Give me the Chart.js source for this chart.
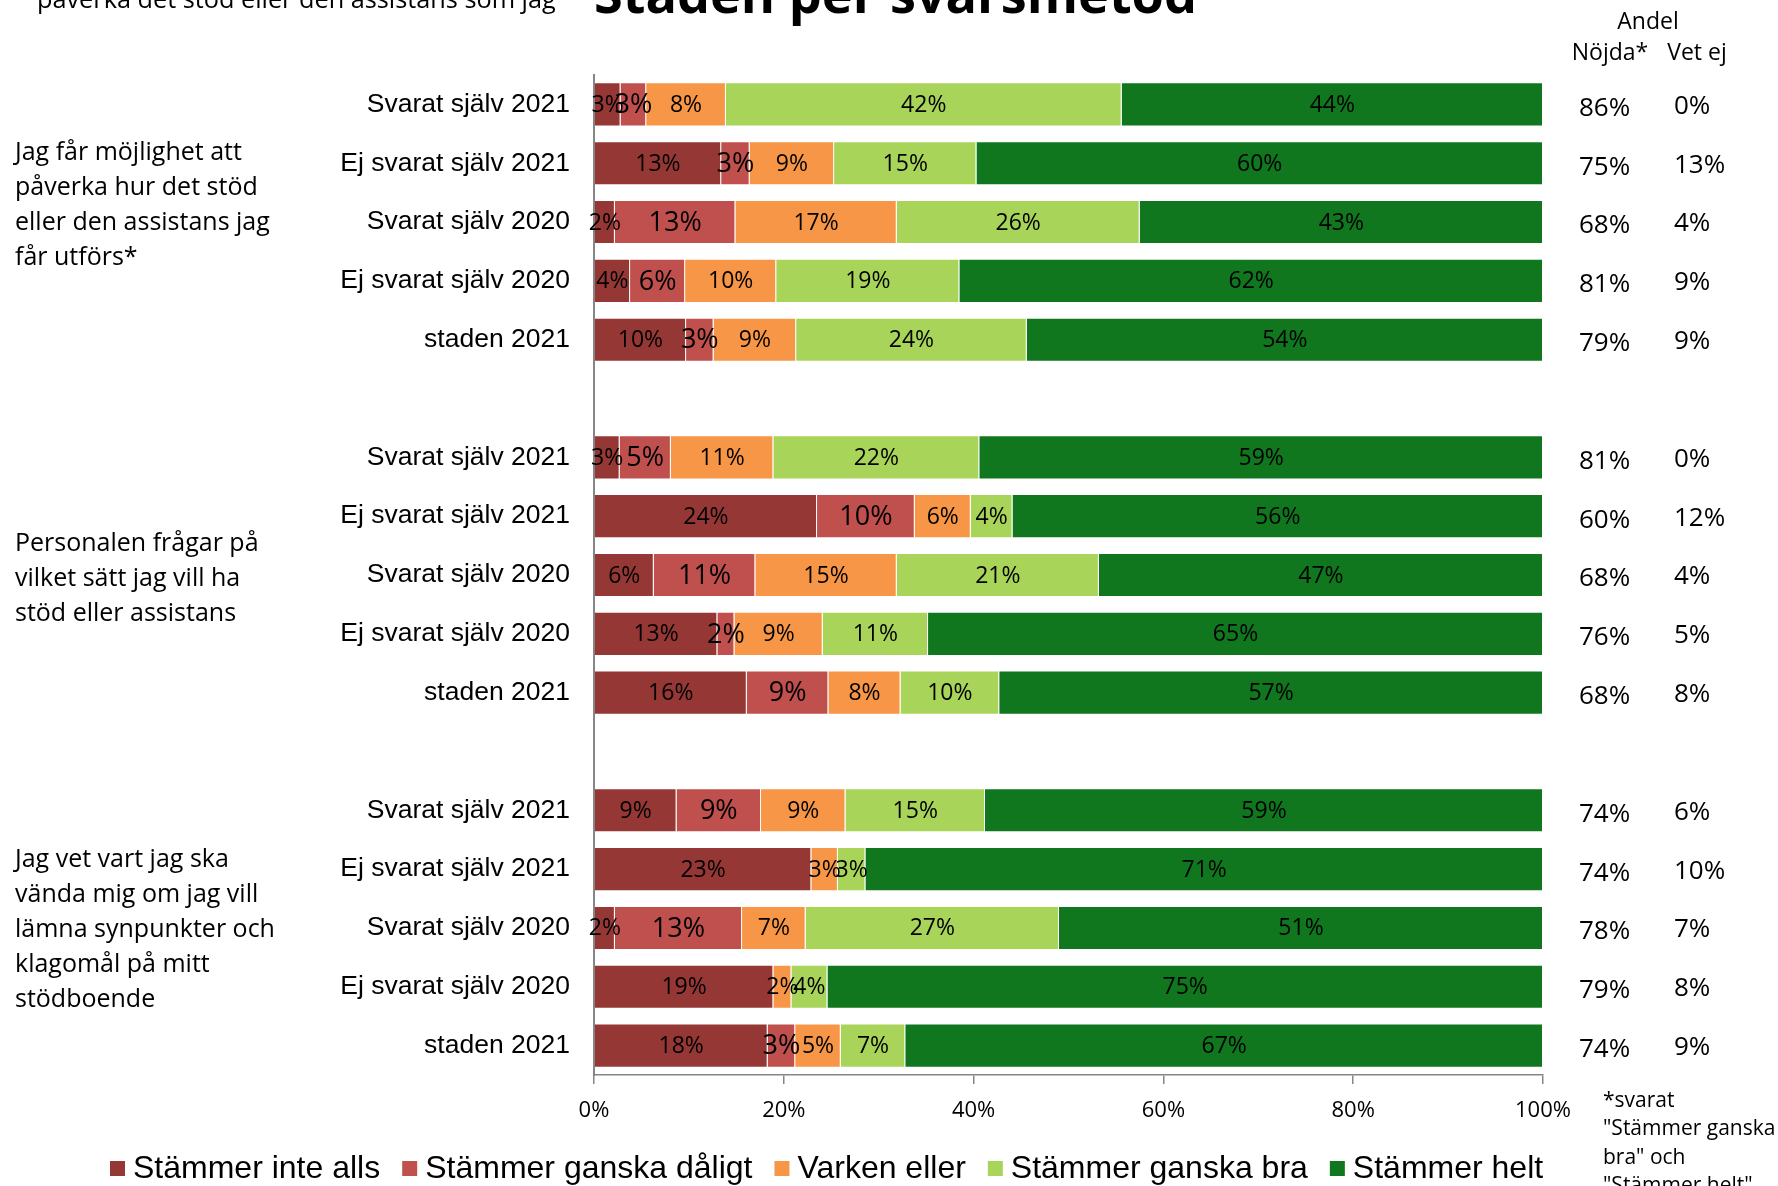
<!DOCTYPE html>
<html><head><meta charset="utf-8">
<script src="https://cdn.jsdelivr.net/npm/chart.js@4/dist/chart.umd.min.js"></script>
<style>html,body{margin:0;padding:0;background:#fff;}canvas{display:block;}</style>
</head><body>
<canvas id="c" width="1778" height="1186"></canvas>
<script>
// ---------- DATA ----------
const categories = [
  'Svarat själv 2021','Ej svarat själv 2021','Svarat själv 2020','Ej svarat själv 2020','staden 2021','',
  'Svarat själv 2021','Ej svarat själv 2021','Svarat själv 2020','Ej svarat själv 2020','staden 2021','',
  'Svarat själv 2021','Ej svarat själv 2021','Svarat själv 2020','Ej svarat själv 2020','staden 2021'
];
const seriesNames = ['Stämmer inte alls','Stämmer ganska dåligt','Varken eller','Stämmer ganska bra','Stämmer helt'];
const interAlls  = [2.8,13.4,2.2,3.8,9.7,null, 2.7,23.5,6.3,13.0,16.1,null, 8.7,22.9,2.2,18.9,18.3];
const gDaligt    = [2.7,3.0,12.7,5.8,2.9,null, 5.4,10.3,10.7,1.8,8.6,null, 8.9,0,13.4,0,2.9];
const varken     = [8.4,8.9,17.0,9.6,8.7,null, 10.8,5.9,14.9,9.3,7.6,null, 8.9,2.8,6.7,1.9,4.8];
const gBra       = [41.7,15.0,25.6,19.3,24.3,null, 21.7,4.4,21.3,11.1,10.4,null, 14.7,2.9,26.7,3.8,6.8];
const helt       = [44.4,59.7,42.5,61.5,54.4,null, 59.4,55.9,46.8,64.8,57.3,null, 58.8,71.4,51.0,75.4,67.2];
const nojda = ['86%','75%','68%','81%','79%','', '81%','60%','68%','76%','68%','', '74%','74%','78%','79%','74%'];
const vetEj = ['0%','13%','4%','9%','9%','', '0%','12%','4%','5%','8%','', '6%','10%','7%','8%','9%'];
const xTickValues = [0,20,40,60,80,100];
const groupQuestions = [
  ['Jag får möjlighet att','påverka hur det stöd','eller den assistans jag','får utförs*'],
  ['Personalen frågar på','vilket sätt jag vill ha','stöd eller assistans'],
  ['Jag vet vart jag ska','vända mig om jag vill','lämna synpunkter och','klagomål på mitt','stödboende']
];
const titleText = 'Staden per svarsmetod';
const cutText = 'påverka det stöd eller den assistans som jag';
const columnHeader = ['Andel','Nöjda*','Vet ej'];
const footnote = ['*svarat','"Stämmer ganska','bra" och','"Stämmer helt"'];

// ---------- STYLE ----------
const colors = ['#953735','#C0504D','#F79646','#A8D45A','#10771E'];
const CAL = '"Open Sans", sans-serif';
const ARI = '"Liberation Sans", Arial, sans-serif';

const seriesData = [interAlls, gDaligt, varken, gBra, helt];
const datasets = seriesNames.map((n,i)=>({
  label:n, data:seriesData[i], backgroundColor:colors[i],
  borderColor:'rgba(255,255,255,0.45)', borderWidth:{top:1,bottom:1,left:0,right:1}, borderSkipped:false,
  categoryPercentage:1, barPercentage:0.75
}));

function fit(ctx, text, weight, family, target){
  ctx.font = `${weight} 100px ${family}`;
  return 100*target/ctx.measureText(text).width;
}

const decor = {
  id:'decor',
  afterDatasetsDraw(chart){
    const ctx = chart.ctx;
    ctx.save();
    ctx.fillStyle = '#000';
    ctx.textAlign = 'center';
    ctx.textBaseline = 'middle';
    chart.data.datasets.forEach((ds,di)=>{
      const meta = chart.getDatasetMeta(di);
      meta.data.forEach((bar,i)=>{
        const v = ds.data[i];
        if (v===null || v===0) return;
        const size = di===1 ? 27 : 23;
        ctx.font = `${size}px ${CAL}`;
        ctx.fillText(Math.round(v)+'%', (bar.x+bar.base)/2, bar.y+1);
      });
    });
    ctx.restore();
  },
  afterDraw(chart){
    const ctx = chart.ctx;
    const ys = chart.scales.y;
    ctx.save();
    ctx.fillStyle = '#000';
    // right columns
    ctx.textBaseline = 'middle';
    ctx.textAlign = 'left';
    ctx.font = `26px ${CAL}`;
    categories.forEach((c,i)=>{
      const y = ys.getPixelForValue(i);
      if (nojda[i]) ctx.fillText(nojda[i], 1579, y+4);
      if (vetEj[i]) ctx.fillText(vetEj[i], 1674, y+2);
    });
    ctx.font = `23px ${CAL}`;
    ctx.textAlign = 'center';
    ctx.fillText(columnHeader[0], 1648, 22);
    ctx.fillText(columnHeader[1], 1610, 53);
    ctx.fillText(columnHeader[2], 1697, 53);
    // group question labels
    ctx.textAlign = 'left';
    ctx.font = `25px ${CAL}`;
    const starts = [153, 544, 860];
    groupQuestions.forEach((lines,g)=>{
      lines.forEach((t,k)=> ctx.fillText(t, 15, starts[g] + k*35));
    });
    // footnote
    ctx.font = `21px ${CAL}`;
    footnote.forEach((t,k)=> ctx.fillText(t, 1603, 1101 + k*28.5));
    // title & cut-off slide text
    ctx.textBaseline = 'alphabetic';
    const ts = fit(ctx, titleText, 'bold', CAL, 603);
    ctx.font = `bold ${ts}px ${CAL}`;
    ctx.fillText(titleText, 594, 13);
    const cs = fit(ctx, cutText, 'normal', CAL, 519);
    ctx.font = `${cs}px ${CAL}`;
    ctx.fillText(cutText, 37, 8);
    // legend
    ctx.textBaseline = 'middle';
    ctx.font = `32px ${ARI}`;
    let x = 110;
    seriesNames.forEach((n,i)=>{
      ctx.fillStyle = colors[i];
      ctx.fillRect(x, 1161, 15, 15);
      ctx.fillStyle = '#000';
      ctx.fillText(n, x+23, 1169);
      x += 23 + ctx.measureText(n).width + 22;
    });
    ctx.restore();
  }
};

new Chart(document.getElementById('c'), {
  type:'bar',
  data:{labels:categories, datasets},
  options:{
    indexAxis:'y', responsive:false, animation:false,
    layout:{padding:{top:75, right:235, bottom:0, left:0}},
    plugins:{legend:{display:false}, tooltip:{enabled:false}},
    scales:{
      x:{
        stacked:true, min:0, max:100,
        afterBuildTicks(s){ s.ticks = xTickValues.map(v=>({value:v})); },
        ticks:{callback:v=>v+'%', font:{family:CAL, size:22}, color:'#000', padding:14, maxRotation:0},
        grid:{drawOnChartArea:false, drawTicks:true, tickLength:9, color:'#868686', lineWidth:1.5},
        border:{color:'#868686', width:1.5},
        afterFit(s){ s.height = 111; }
      },
      y:{
        stacked:true,
        ticks:{font:{family:ARI, size:26.5}, color:'#000', padding:16, autoSkip:false},
        grid:{display:false},
        border:{display:true, color:'#868686', width:2},
        afterFit(s){ s.width = 594; }
      }
    }
  },
  plugins:[decor]
});
</script>
</body></html>
